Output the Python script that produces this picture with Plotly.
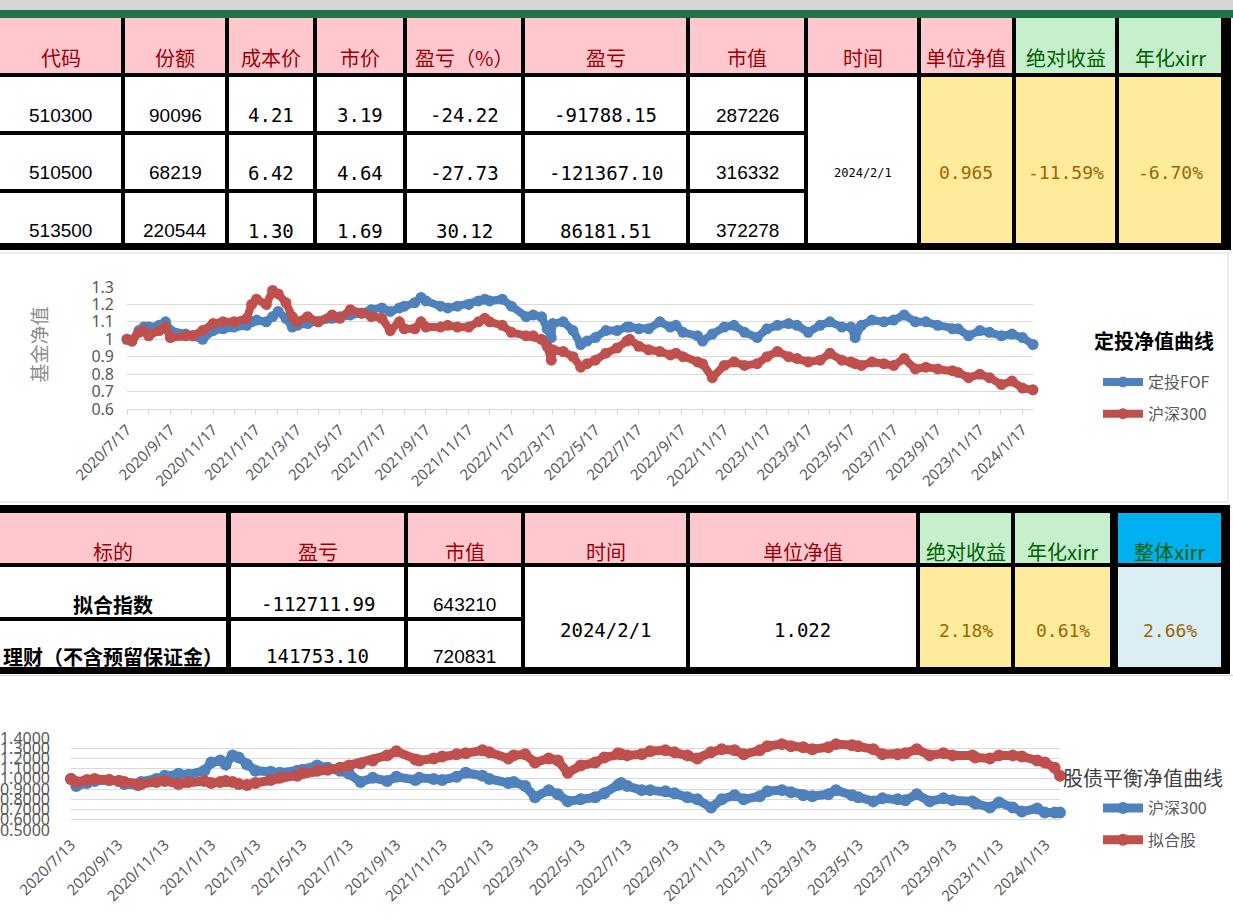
import datetime as dt
import pandas as pd
import plotly.graph_objects as go

W, H = 1233, 920

# ---------------- table data ----------------
top_headers = ["代码", "份额", "成本价", "市价", "盈亏（%）", "盈亏", "市值", "时间", "单位净值", "绝对收益", "年化xirr"]
fund_codes = ["510300", "510500", "513500"]
fund_shares = ["90096", "68219", "220544"]
fund_cost = ["4.21", "6.42", "1.30"]
fund_price = ["3.19", "4.64", "1.69"]
fund_pnl_pct = ["-24.22", "-27.73", "30.12"]
fund_pnl = ["-91788.15", "-121367.10", "86181.51"]
fund_value = ["287226", "316332", "372278"]
top_date = "2024/2/1"
top_summary = ["0.965", "-11.59%", "-6.70%"]

bottom_headers = ["标的", "盈亏", "市值", "时间", "单位净值", "绝对收益", "年化xirr", "整体xirr"]
asset_names = ["拟合指数", "理财（不含预留保证金）"]
asset_pnl = ["-112711.99", "141753.10"]
asset_value = ["643210", "720831"]
bottom_date = "2024/2/1"
bottom_nav = "1.022"
bottom_summary = ["2.18%", "0.61%", "2.66%"]

# ---------------- chart 1 data (定投净值曲线) ----------------
c1_dates = [
    "2020-07-17", "2020-07-24", "2020-08-03", "2020-08-10", "2020-08-17", "2020-09-01", "2020-09-10",
    "2020-09-17", "2020-10-09", "2020-10-19", "2020-11-02", "2020-11-17", "2020-12-01", "2020-12-17",
    "2021-01-04", "2021-01-11", "2021-01-18", "2021-02-01", "2021-02-10", "2021-02-18", "2021-03-01",
    "2021-03-10", "2021-03-17", "2021-04-01", "2021-04-16", "2021-05-06", "2021-05-17", "2021-06-01",
    "2021-06-17", "2021-07-01", "2021-07-16", "2021-07-28", "2021-08-10", "2021-08-17", "2021-09-01",
    "2021-09-10", "2021-09-17", "2021-10-08", "2021-10-18", "2021-11-01", "2021-11-17", "2021-12-01",
    "2021-12-10", "2021-12-17", "2022-01-04", "2022-01-17", "2022-02-07", "2022-02-17", "2022-03-01",
    "2022-03-09", "2022-03-15", "2022-03-17", "2022-04-01", "2022-04-15", "2022-04-26", "2022-05-05",
    "2022-05-17", "2022-06-01", "2022-06-17", "2022-07-01", "2022-07-05", "2022-07-18", "2022-08-01",
    "2022-08-17", "2022-09-01", "2022-09-09", "2022-09-19", "2022-10-10", "2022-10-17", "2022-10-31",
    "2022-11-17", "2022-12-01", "2022-12-16", "2023-01-03", "2023-01-17", "2023-02-01", "2023-02-17",
    "2023-03-01", "2023-03-17", "2023-04-03", "2023-04-17", "2023-05-04", "2023-05-17", "2023-05-23",
    "2023-06-01", "2023-06-16", "2023-07-03", "2023-07-17", "2023-08-01", "2023-08-17", "2023-09-01",
    "2023-09-18", "2023-10-09", "2023-10-17", "2023-11-01", "2023-11-17", "2023-12-01", "2023-12-18",
    "2024-01-02", "2024-01-17", "2024-02-01",
]
c1_fof = [
    1.00, 0.99, 1.05, 1.07, 1.07, 1.08, 1.10,
    1.05, 1.03, 1.02, 1.00, 1.05, 1.06, 1.07,
    1.08, 1.10, 1.11, 1.10, 1.13, 1.16, 1.12,
    1.07, 1.08, 1.09, 1.10, 1.12, 1.13, 1.14,
    1.15, 1.17, 1.18, 1.16, 1.18, 1.19, 1.21,
    1.24, 1.22, 1.19, 1.18, 1.19, 1.20, 1.22,
    1.23, 1.22, 1.23, 1.19, 1.13, 1.14, 1.13,
    1.06, 1.01, 1.09, 1.10, 1.05, 0.97, 0.99,
    1.01, 1.05, 1.05, 1.07, 1.07, 1.06, 1.06,
    1.10, 1.07, 1.08, 1.04, 1.02, 0.99, 1.03,
    1.07, 1.08, 1.04, 1.01, 1.06, 1.08, 1.09,
    1.08, 1.04, 1.08, 1.10, 1.07, 1.07, 1.01,
    1.08, 1.11, 1.10, 1.11, 1.14, 1.10, 1.10,
    1.08, 1.06, 1.06, 1.02, 1.05, 1.04, 1.02,
    1.03, 1.01, 0.97,
]
c1_hs300 = [
    1.00, 0.99, 1.04, 1.05, 1.02, 1.05, 1.07,
    1.01, 1.02, 1.02, 1.05, 1.09, 1.10, 1.10,
    1.12, 1.20, 1.23, 1.20, 1.28, 1.26, 1.21,
    1.13, 1.10, 1.13, 1.10, 1.14, 1.12, 1.17,
    1.15, 1.13, 1.12, 1.05, 1.10, 1.06, 1.06,
    1.10, 1.07, 1.07, 1.08, 1.07, 1.07, 1.10,
    1.12, 1.10, 1.08, 1.04, 1.02, 1.02, 1.00,
    0.96, 0.88, 0.94, 0.93, 0.90, 0.84, 0.86,
    0.88, 0.92, 0.95, 0.99, 1.00, 0.96, 0.94,
    0.93, 0.91, 0.92, 0.90, 0.87, 0.86, 0.78,
    0.85, 0.87, 0.85, 0.86, 0.90, 0.93, 0.90,
    0.89, 0.87, 0.88, 0.92, 0.88, 0.87, 0.86,
    0.85, 0.87, 0.86, 0.85, 0.89, 0.83, 0.84,
    0.83, 0.82, 0.81, 0.78, 0.80, 0.78, 0.74,
    0.76, 0.72, 0.71,
]
c1_xlabels = ["2020/7/17", "2020/9/17", "2020/11/17", "2021/1/17", "2021/3/17", "2021/5/17",
              "2021/7/17", "2021/9/17", "2021/11/17", "2022/1/17", "2022/3/17", "2022/5/17",
              "2022/7/17", "2022/9/17", "2022/11/17", "2023/1/17", "2023/3/17", "2023/5/17",
              "2023/7/17", "2023/9/17", "2023/11/17", "2024/1/17"]
c1_yvals = [0.6, 0.7, 0.8, 0.9, 1.0, 1.1, 1.2, 1.3]
c1_ylabels = ["0.6", "0.7", "0.8", "0.9", "1", "1.1", "1.2", "1.3"]

# ---------------- chart 2 data (股债平衡净值曲线) ----------------
c2_dates = [
    "2020-07-13", "2020-07-20", "2020-08-03", "2020-08-13", "2020-09-01", "2020-09-14", "2020-09-21",
    "2020-10-09", "2020-10-13", "2020-11-02", "2020-11-13", "2020-12-01", "2020-12-14", "2021-01-04",
    "2021-01-13", "2021-01-25", "2021-02-01", "2021-02-10", "2021-02-18", "2021-03-01", "2021-03-12",
    "2021-04-01", "2021-04-13", "2021-05-06", "2021-05-13", "2021-06-01", "2021-06-15", "2021-07-01",
    "2021-07-13", "2021-07-28", "2021-08-13", "2021-09-01", "2021-09-13", "2021-10-08", "2021-10-13",
    "2021-11-01", "2021-11-12", "2021-12-01", "2021-12-13", "2022-01-04", "2022-01-13", "2022-02-07",
    "2022-02-14", "2022-03-01", "2022-03-14", "2022-04-01", "2022-04-13", "2022-04-26", "2022-05-13",
    "2022-06-01", "2022-06-13", "2022-07-01", "2022-07-05", "2022-07-13", "2022-08-01", "2022-08-12",
    "2022-09-01", "2022-09-13", "2022-09-30", "2022-10-13", "2022-10-31", "2022-11-14", "2022-12-01",
    "2022-12-13", "2023-01-03", "2023-01-13", "2023-02-01", "2023-02-13", "2023-03-01", "2023-03-13",
    "2023-04-03", "2023-04-13", "2023-05-04", "2023-05-12", "2023-06-01", "2023-06-13", "2023-07-03",
    "2023-07-13", "2023-07-28", "2023-08-14", "2023-09-01", "2023-09-13", "2023-10-09", "2023-10-13",
    "2023-11-01", "2023-11-13", "2023-12-01", "2023-12-13", "2024-01-02", "2024-01-12", "2024-01-25",
    "2024-02-01",
]
c2_hs300 = [
    1.00, 0.93, 0.96, 0.98, 0.99, 0.98, 0.95,
    0.94, 0.97, 1.00, 1.03, 1.05, 1.04, 1.08,
    1.16, 1.18, 1.14, 1.23, 1.21, 1.14, 1.08,
    1.07, 1.06, 1.08, 1.09, 1.13, 1.11, 1.08,
    1.05, 0.97, 1.01, 0.98, 1.02, 0.99, 1.01,
    1.00, 0.99, 1.02, 1.06, 1.03, 1.00, 0.96,
    0.97, 0.93, 0.82, 0.89, 0.85, 0.78, 0.80,
    0.82, 0.86, 0.94, 0.96, 0.93, 0.89, 0.89,
    0.88, 0.86, 0.82, 0.80, 0.72, 0.80, 0.84,
    0.80, 0.83, 0.88, 0.89, 0.87, 0.84, 0.83,
    0.85, 0.89, 0.84, 0.82, 0.78, 0.81, 0.80,
    0.79, 0.85, 0.78, 0.81, 0.79, 0.78, 0.76,
    0.72, 0.77, 0.72, 0.68, 0.71, 0.67, 0.67,
    0.67,
]
c2_blend = [
    1.00, 0.97, 0.99, 1.00, 0.99, 0.98, 0.97,
    0.94, 0.95, 0.97, 0.98, 0.95, 0.97, 0.98,
    0.96, 0.97, 0.98, 0.97, 0.95, 0.94, 0.96,
    0.99, 1.01, 1.03, 1.06, 1.08, 1.09, 1.11,
    1.13, 1.15, 1.18, 1.23, 1.27, 1.19, 1.18,
    1.20, 1.22, 1.24, 1.25, 1.28, 1.26, 1.20,
    1.23, 1.24, 1.16, 1.20, 1.18, 1.06, 1.13,
    1.16, 1.21, 1.25, 1.24, 1.23, 1.24, 1.27,
    1.28, 1.26, 1.23, 1.20, 1.26, 1.29, 1.28,
    1.24, 1.28, 1.32, 1.34, 1.32, 1.31, 1.29,
    1.31, 1.34, 1.33, 1.32, 1.29, 1.24, 1.24,
    1.25, 1.29, 1.23, 1.25, 1.23, 1.23, 1.21,
    1.20, 1.23, 1.23, 1.22, 1.18, 1.16, 1.11,
    1.03,
]
c2_xlabels = ["2020/7/13", "2020/9/13", "2020/11/13", "2021/1/13", "2021/3/13", "2021/5/13",
              "2021/7/13", "2021/9/13", "2021/11/13", "2022/1/13", "2022/3/13", "2022/5/13",
              "2022/7/13", "2022/9/13", "2022/11/13", "2023/1/13", "2023/3/13", "2023/5/13",
              "2023/7/13", "2023/9/13", "2023/11/13", "2024/1/13"]
c2_yvals = [0.5, 0.6, 0.7, 0.8, 0.9, 1.0, 1.1, 1.2, 1.3, 1.4]
c2_ylabels = ["0.5000", "0.6000", "0.7000", "0.8000", "0.9000", "1.0000", "1.1000", "1.2000", "1.3000", "1.4000"]

# ---------------- styles ----------------
BLUE = "#4F81BD"
RED = "#C0504D"
PINK = "#FFC7CE"
PINK_TXT = "#9C0006"
GREEN = "#C6EFCE"
GREEN_TXT = "#006100"
YELLOW = "#FFEB9C"
YELLOW_TXT = "#9C6500"
CYAN = "#00B0F0"
LIGHTBLUE = "#DAEEF3"
GRID = "#D9D9D9"
AXTXT = "#595959"
CJK = "Noto Sans CJK SC"
MONO = "DejaVu Sans Mono"
SANS = "Liberation Sans"


def X(px):
    return px / W


def Y(py):
    return 1 - py / H


shapes = []
annotations = []


def rect(x0, x1, y0, y1, fill, line=None):
    shapes.append(dict(type="rect", xref="paper", yref="paper", x0=X(x0), x1=X(x1), y0=Y(y1), y1=Y(y0),
                       fillcolor=fill, line=line or dict(width=0), layer="below"))


def text(x, y, s, size, color, family, bold=False, xanchor="center"):
    annotations.append(dict(x=X(x), y=Y(y), xref="paper", yref="paper", text=f"<b>{s}</b>" if bold else s,
                            showarrow=False, xanchor=xanchor, yanchor="middle",
                            font=dict(size=size, color=color, family=family)))


def date_vals(labels):
    return [dt.datetime.strptime(s, "%Y/%m/%d").strftime("%Y-%m-%d") for s in labels]


# ---------------- top band ----------------
rect(0, W, 0, 10, "#D6D6D6")
rect(0, W, 10, 18, "#217346")

# ---------------- top table ----------------
rect(0, 1231, 18, 250, "#000000")
tcols = [(0, 121), (125, 225), (229, 313), (317, 403), (407, 521), (525, 686), (690, 804),
         (808, 917), (921, 1012), (1016, 1115), (1119, 1221)]
trows = [(77, 131), (135, 189), (193, 243)]
row_txt_y = [115, 173, 231]
for i, (a, b) in enumerate(tcols):
    green = i >= 9
    rect(a, b, 18, 73, GREEN if green else PINK)
    text((a + b) / 2, 57, top_headers[i], 20, GREEN_TXT if green else PINK_TXT, CJK)
    if i <= 6:
        for (r0, r1) in trows:
            rect(a, b, r0, r1, "#FFFFFF")
    elif i == 7:
        rect(a, b, 77, 243, "#FFFFFF")
    else:
        rect(a, b, 77, 243, YELLOW)

top_cols_data = [(fund_codes, SANS), (fund_shares, SANS), (fund_cost, MONO), (fund_price, MONO),
                 (fund_pnl_pct, MONO), (fund_pnl, MONO), (fund_value, SANS)]
for i, (vals, fam) in enumerate(top_cols_data):
    a, b = tcols[i]
    for r, v in enumerate(vals):
        text((a + b) / 2, row_txt_y[r], v, 19, "#000000", fam)
text((tcols[7][0] + tcols[7][1]) / 2, 173, top_date, 12, "#000000", MONO)
for k, v in enumerate(top_summary):
    a, b = tcols[8 + k]
    text((a + b) / 2, 173, v, 18, YELLOW_TXT, MONO)

# ---------------- chart 1 frame ----------------
rect(-2, 1228, 253, 502, "rgba(0,0,0,0)", dict(color=GRID, width=1))

# ---------------- bottom table ----------------
rect(0, 1230, 505, 674, "#000000")
bcols = [(0, 226), (231, 404), (408, 521), (525, 686), (690, 916), (920, 1011), (1015, 1110), (1118, 1221)]
brows = [(567, 617), (621, 667)]
for i, (a, b) in enumerate(bcols):
    if i <= 4:
        hf, ht = PINK, PINK_TXT
    elif i <= 6:
        hf, ht = GREEN, GREEN_TXT
    else:
        hf, ht = CYAN, GREEN_TXT
    rect(a, b, 513, 563, hf)
    text((a + b) / 2, 551, bottom_headers[i], 20, ht, CJK)
    if i <= 2:
        for (r0, r1) in brows:
            rect(a, b, r0, r1, "#FFFFFF")
    elif i <= 4:
        rect(a, b, 567, 667, "#FFFFFF")
    elif i <= 6:
        rect(a, b, 567, 667, YELLOW)
    else:
        rect(a, b, 567, 667, LIGHTBLUE)
brow_y = [604, 656]
for r in range(2):
    text((bcols[0][0] + bcols[0][1]) / 2, brow_y[r], asset_names[r], 20, "#000000", CJK, bold=True)
    text((bcols[1][0] + bcols[1][1]) / 2, brow_y[r], asset_pnl[r], 19, "#000000", MONO)
    text((bcols[2][0] + bcols[2][1]) / 2, brow_y[r], asset_value[r], 19, "#000000", SANS)
text((bcols[3][0] + bcols[3][1]) / 2, 630, bottom_date, 19, "#000000", MONO)
text((bcols[4][0] + bcols[4][1]) / 2, 630, bottom_nav, 19, "#000000", MONO)
for k, v in enumerate(bottom_summary):
    a, b = bcols[5 + k]
    text((a + b) / 2, 630, v, 18, YELLOW_TXT, MONO)
rect(0, W, 675, 676, GRID)

# ---------------- chart titles ----------------
text(1154, 340, "定投净值曲线", 20, "#000000", CJK, bold=True)
text(1143, 777, "股债平衡净值曲线", 20, "#404040", CJK)
annotations.append(dict(x=X(22), y=Y(345), xref="paper", yref="paper", text="基金净值", textangle=-90,
                        showarrow=False, font=dict(size=19, color="#8C8C8C", family=CJK)))

# ---------------- traces ----------------
fig = go.Figure()
line_kw = dict(mode="lines+markers", cliponaxis=False)
fig.add_trace(go.Scatter(x=c1_dates, y=c1_fof, name="定投FOF", line=dict(color=BLUE, width=8),
                         marker=dict(color=BLUE, size=11), xaxis="x", yaxis="y",
                         legend="legend", legendgroup="a", **line_kw))
fig.add_trace(go.Scatter(x=c1_dates, y=c1_hs300, name="沪深300", line=dict(color=RED, width=8),
                         marker=dict(color=RED, size=11), xaxis="x", yaxis="y",
                         legend="legend", legendgroup="b", **line_kw))
fig.add_trace(go.Scatter(x=c2_dates, y=c2_hs300, name="沪深300", line=dict(color=BLUE, width=9),
                         marker=dict(color=BLUE, size=12), xaxis="x2", yaxis="y2",
                         legend="legend2", legendgroup="c", **line_kw))
fig.add_trace(go.Scatter(x=c2_dates, y=c2_blend, name="拟合股", line=dict(color=RED, width=9),
                         marker=dict(color=RED, size=12), xaxis="x2", yaxis="y2",
                         legend="legend2", legendgroup="d", **line_kw))

c1_major = date_vals(c1_xlabels)
c1_minor = [(pd.Timestamp(d) + pd.DateOffset(months=1)).strftime("%Y-%m-%d") for d in c1_major[:-1]]
c2_major = date_vals(c2_xlabels)

legend_common = dict(xanchor="left", yanchor="top", bgcolor="rgba(0,0,0,0)", tracegroupgap=8,
                     itemwidth=40, font=dict(size=16, color=AXTXT, family=CJK))

fig.update_layout(
    width=W, height=H, autosize=False,
    margin=dict(l=0, r=0, t=0, b=0, pad=0, autoexpand=False),
    paper_bgcolor="#FFFFFF", plot_bgcolor="rgba(0,0,0,0)",
    showlegend=True,
    shapes=shapes, annotations=annotations,
    xaxis=dict(domain=[X(127), X(1033)], range=[c1_dates[0], c1_dates[-1]], type="date", anchor="y",
               automargin=False,
               tickmode="array", tickvals=c1_major, ticktext=c1_xlabels, tickangle=-45,
               ticks="outside", ticklen=5, tickcolor=GRID, showline=True, linecolor=GRID,
               showgrid=False, zeroline=False,
               tickfont=dict(size=15, color=AXTXT, family="Noto Sans"),
               minor=dict(tickmode="array", tickvals=c1_minor, ticks="outside", ticklen=5,
                          tickcolor=GRID, showgrid=False)),
    yaxis=dict(domain=[Y(409), Y(287)], range=[0.6, 1.3], anchor="x", tickmode="array", automargin=False,
               tickvals=c1_yvals, ticktext=c1_ylabels, showgrid=True, gridcolor=GRID, zeroline=False,
               showline=False, ticks="", ticklabelstandoff=12,
               tickfont=dict(size=16, color=AXTXT, family="Noto Sans")),
    xaxis2=dict(domain=[X(71), X(1060)], range=[c2_dates[0], c2_dates[-1]], type="date", anchor="y2",
                automargin=False,
                tickmode="array", tickvals=c2_major, ticktext=c2_xlabels, tickangle=-45,
                ticks="", showline=False, showgrid=False, zeroline=False, ticklabelstandoff=2,
                tickfont=dict(size=15, color=AXTXT, family="Noto Sans")),
    yaxis2=dict(domain=[Y(830), Y(738)], range=[0.5, 1.4], anchor="x2", tickmode="array", automargin=False,
                tickvals=c2_yvals, ticktext=c2_ylabels, showgrid=True, gridcolor=GRID, zeroline=False,
                showline=False, ticks="", ticklabelstandoff=20,
                tickfont=dict(size=16, color=AXTXT, family="Noto Sans")),
    legend=dict(x=X(1098), y=Y(365), **legend_common),
    legend2=dict(x=X(1098), y=Y(791), **legend_common),
)

fig.write_html("out.html", config={"displayModeBar": False},
               post_script="document.body.style.margin='0px';")
